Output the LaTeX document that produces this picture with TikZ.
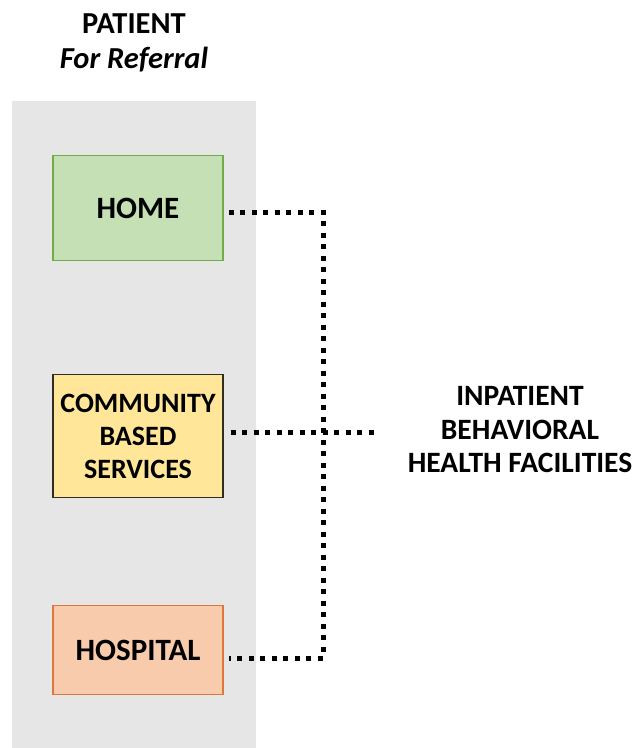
\documentclass[tikz,border=0pt]{standalone}
\usepackage{fontspec}
\setmainfont{Carlito}
\begin{document}
\begin{tikzpicture}[x=1pt,y=-1pt,
  box/.style={draw, line width=1.2pt, minimum width=170pt, font=\bfseries\fontsize{31}{34}\selectfont, align=center},
  lbl/.style={font=\bfseries\fontsize{30.5}{35}\selectfont, align=center},
  dots/.style={line width=5pt, dash pattern=on 5pt off 6.5pt}]
\useasboundingbox (0,0) rectangle (634,748);
\fill[fill={rgb,255:red,231;green,230;blue,230}] (12,101) rectangle (256,748);
\node[lbl] (title) at (134,43) {PATIENT\\\textit{For Referral}};
\node[box, fill={rgb,255:red,197;green,224;blue,180}, draw={rgb,255:red,112;green,173;blue,71}, minimum height=105pt] (home) at (138,208) {HOME};
\node[box, fill={rgb,255:red,255;green,230;blue,153}, draw={rgb,255:red,50;green,45;blue,35}, minimum height=123pt, font=\bfseries\fontsize{28}{33}\selectfont] (comm) at (138,436) {COMMUNITY\\BASED\\SERVICES};
\node[box, fill={rgb,255:red,248;green,203;blue,173}, draw={rgb,255:red,220;green,120;blue,60}, minimum height=89pt] (hosp) at (138,650) {HOSPITAL};
\node[lbl, font=\bfseries\fontsize{29.5}{33.5}\selectfont] (inp) at (520,430) {INPATIENT\\BEHAVIORAL\\HEALTH FACILITIES};
\coordinate (jt) at (323,212);
\coordinate (jb) at (323,658);
\coordinate (ce) at (375,432);
\draw[dots] ([xshift=5pt]home.east |- jt) -- (jt) -- (jb) -- ([xshift=5pt]hosp.east |- jb);
\draw[dots] ([xshift=7pt]comm.east |- ce) -- (ce);
\end{tikzpicture}
\end{document}
